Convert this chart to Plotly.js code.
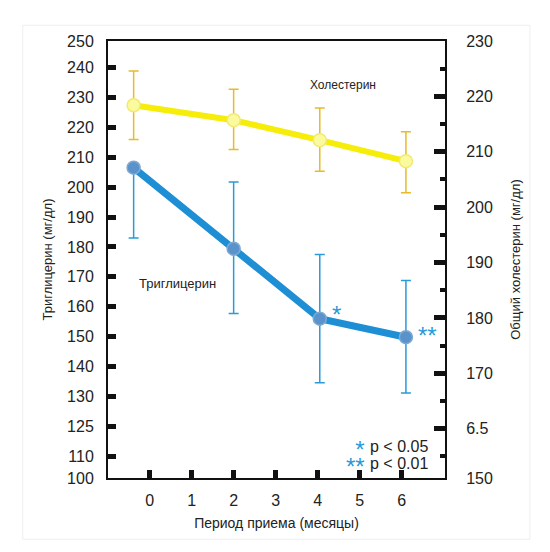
<!DOCTYPE html>
<html>
<head>
<meta charset="utf-8">
<script src="https://cdn.plot.ly/plotly-3.0.1.min.js"></script>
<style>
  body { margin: 0; background: #fff; }
  #chart { width: 550px; height: 552px; }
</style>
</head>
<body>
<div id="chart"></div>
<script>
// months as drawn (first point sits a little left of the 0 tick in the original)
var months = [-0.38, 2, 4.05, 6.1];

// triglycerides, left axis (mg/dl)
var trig = [206.5, 179.4, 156, 149.8];
var trigPlus = [0, 22.3, 21.5, 19];
var trigMinus = [23.5, 21.7, 21.4, 18.7];

// total cholesterol, right axis (mg/dl)
var chol = [218.4, 215.7, 212.1, 208.3];
var cholPlus = [6.2, 5.6, 5.8, 5.3];
var cholMinus = [6.2, 5.3, 5.6, 5.7];

// tick labels, copied as printed (incl. the odd "125" and "6.5")
var leftTickVals = [248.9, 240, 230, 220, 210, 200, 190, 180, 170, 160, 150, 140, 130, 120, 110, 102.7];
var leftTickText = ['250', '240', '230', '220', '210', '200', '190', '180', '170', '160', '150', '140', '130', '125', '110', '100'];
var rightTickVals = [230, 220, 210, 200, 190, 180, 170, 160, 151.1];
var rightTickText = ['230', '220', '210', '200', '190', '180', '170', '6.5', '150'];
var rightMinor = [225, 215, 205, 195, 185, 175, 165, 155];
var xTickVals = [0, 1, 2, 3, 4, 5, 6];

var blue = '#1e8fd5';
var yellow = '#f6ee0a';
var starBlue = '#2a9ad8';

var traceTrig = {
    x: months,
    y: trig,
    yaxis: 'y',
    type: 'scatter',
    mode: 'lines+markers',
    line: {color: blue, width: 7},
    marker: {size: 13, color: '#5a93cc', line: {color: '#7fa8d0', width: 1.5}},
    error_y: {type: 'data', symmetric: false, array: trigPlus, arrayminus: trigMinus,
              color: starBlue, thickness: 1.5, width: 5},
    cliponaxis: false,
    hoverinfo: 'x+y'
};

var traceChol = {
    x: months,
    y: chol,
    yaxis: 'y2',
    type: 'scatter',
    mode: 'lines+markers',
    line: {color: yellow, width: 6},
    marker: {size: 13, color: '#fbfa9e', line: {color: '#f2ea70', width: 1.5}},
    error_y: {type: 'data', symmetric: false, array: cholPlus, arrayminus: cholMinus,
              color: '#e8bb2a', thickness: 1.5, width: 5},
    cliponaxis: false,
    hoverinfo: 'x+y'
};

var font = 'Liberation Sans, Arial, sans-serif';

var layout = {
    width: 550,
    height: 552,
    margin: {l: 108, r: 105, t: 41, b: 74},
    paper_bgcolor: '#ffffff',
    plot_bgcolor: '#ffffff',
    showlegend: false,
    font: {family: font, color: '#222'},
    xaxis: {
        range: [-0.99, 7.03],
        tickvals: xTickVals,
        ticks: 'inside', ticklen: 8, tickwidth: 5, tickcolor: '#111',
        showline: true, linecolor: '#111', linewidth: 2, mirror: true,
        showgrid: false, zeroline: false,
        tickfont: {size: 16, color: '#222'},
        ticklabelstandoff: 7,
        title: {text: 'Период приема (месяцы)', font: {size: 14, color: '#222'}, standoff: 10}
    },
    yaxis: {
        range: [102.7, 248.9],
        tickvals: leftTickVals,
        ticktext: leftTickText,
        ticks: 'inside', ticklen: 8, tickwidth: 5, tickcolor: '#111',
        showline: true, linecolor: '#111', linewidth: 2,
        showgrid: false, zeroline: false,
        tickfont: {size: 16, color: '#222'},
        ticklabelstandoff: 9,
        title: {text: 'Триглицерин (мг/дл)', font: {size: 13, color: '#222'}, standoff: 12}
    },
    yaxis2: {
        overlaying: 'y',
        side: 'right',
        range: [151.1, 230],
        tickvals: rightTickVals,
        ticktext: rightTickText,
        ticks: 'inside', ticklen: 11, tickwidth: 5, tickcolor: '#111',
        minor: {tickvals: rightMinor, ticks: 'inside', ticklen: 5, tickwidth: 4, tickcolor: '#111', showgrid: false},
        showline: true, linecolor: '#111', linewidth: 2,
        showgrid: false, zeroline: false,
        tickfont: {size: 16, color: '#222'},
        ticklabelstandoff: 16,
        title: {text: 'Общий холестерин (мг/дл)', font: {size: 13, color: '#222'}, standoff: 19}
    },
    shapes: [{
        type: 'rect', xref: 'paper', yref: 'paper',
        x0: -0.253, x1: 1.252, y0: -0.14, y1: 1.036,
        line: {color: '#eeeeee', width: 1}, layer: 'below'
    }],
    annotations: [
        {x: 4.6, y: 234.1, xref: 'x', yref: 'y', text: 'Холестерин', showarrow: false,
         font: {size: 12, color: '#222'}},
        {x: 0.67, y: 167.8, xref: 'x', yref: 'y', text: 'Триглицерин', showarrow: false,
         font: {size: 13, color: '#222'}},
        {x: 4.45, y: 157.5, xref: 'x', yref: 'y', text: '*', showarrow: false,
         font: {size: 24, color: starBlue}},
        {x: 6.62, y: 150.3, xref: 'x', yref: 'y', text: '**', showarrow: false,
         font: {size: 24, color: starBlue}},
        // significance key: text lines on their own, stars stacked in one label
        {x: 0.955, y: 0.0725, xref: 'paper', yref: 'paper', xanchor: 'right', yanchor: 'middle',
         text: 'p &lt; 0.05', showarrow: false, font: {size: 16, color: '#222'}},
        {x: 0.955, y: 0.0336, xref: 'paper', yref: 'paper', xanchor: 'right', yanchor: 'middle',
         text: 'p &lt; 0.01', showarrow: false, font: {size: 16, color: '#222'}},
        {x: 0.77, y: 0.046, xref: 'paper', yref: 'paper', xanchor: 'right', yanchor: 'middle',
         align: 'right',
         text: '<span style="font-size:24px">*</span><br><span style="font-size:24px">**</span>',
         showarrow: false, font: {size: 13, color: starBlue}}
    ]
};

Plotly.newPlot('chart', [traceTrig, traceChol], layout, {displayModeBar: false, staticPlot: true});
</script>
</body>
</html>
